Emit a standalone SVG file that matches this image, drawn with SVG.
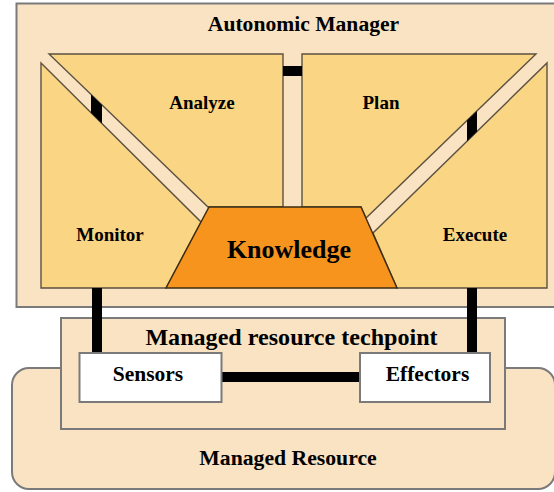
<svg xmlns="http://www.w3.org/2000/svg" width="554" height="492" viewBox="0 0 554 492">
<style>
.bg{fill:#FAE3C2;stroke:#7a7a7a;stroke-width:2}
.fn{fill:#F9D584;stroke:#5c5242;stroke-width:1.4;stroke-linejoin:miter}
.kn{fill:#F7941E;stroke:#3d2c12;stroke-width:1.4}
.wb{fill:#ffffff;stroke:#7a7a7a;stroke-width:2}
.bar{fill:#000000}
text{font-family:"Liberation Serif","Times New Roman",serif;font-weight:bold;fill:#000;text-anchor:middle}
</style>
<rect width="554" height="492" fill="#ffffff"/>
<g id="autonomic-manager">
<rect class="bg" x="16.5" y="3.5" width="560" height="303.5"/>
<text x="303.5" y="31" font-size="21.6">Autonomic Manager</text>
</g>
<g id="managed-resource">
<rect class="bg" x="12" y="368" width="543" height="121" rx="17"/>
<text x="288" y="465" font-size="21.7">Managed Resource</text>
</g>
<g id="techpoint">
<rect class="bg" x="61" y="318" width="444" height="111"/>
<text x="291.5" y="345" font-size="24.1">Managed resource techpoint</text>
</g>
<g id="analyze">
<polygon class="fn" points="49,54 283,54 283,207 208,207"/>
<text x="202" y="109" font-size="19">Analyze</text>
</g>
<g id="plan">
<polygon class="fn" points="302,54 536,54 366,218 361,207 302,207"/>
<text x="381" y="109" font-size="19">Plan</text>
</g>
<g id="monitor">
<polygon class="fn" points="41,63 201,222 166,288 41,288"/>
<text x="110" y="241" font-size="19">Monitor</text>
</g>
<g id="execute">
<polygon class="fn" points="547,63 547,288 397,288 373,233"/>
<text x="475" y="241" font-size="19">Execute</text>
</g>
<g id="knowledge">
<polygon class="kn" points="209,207 361,207 397,288 166,288"/>
<text x="289" y="258" font-size="26">Knowledge</text>
</g>
<g id="connectors">
<polygon class="bar" points="91,94.4 102,104.9 102,123.6 91,112.7"/>
<polygon class="bar" points="467,120.6 477,110.9 477,131.4 467,141.2"/>
<rect class="bar" x="283" y="66" width="19" height="10"/>
<rect class="bar" x="92" y="288" width="10" height="65"/>
<rect class="bar" x="467" y="288" width="10" height="65"/>
<rect class="bar" x="222" y="372" width="138" height="10"/>
</g>
<g id="sensors">
<rect class="wb" x="79.5" y="353" width="142" height="49"/>
<text x="148" y="381" font-size="21.5">Sensors</text>
</g>
<g id="effectors">
<rect class="wb" x="360" y="353" width="130" height="49"/>
<text x="427.5" y="381" font-size="21.5">Effectors</text>
</g>
</svg>
